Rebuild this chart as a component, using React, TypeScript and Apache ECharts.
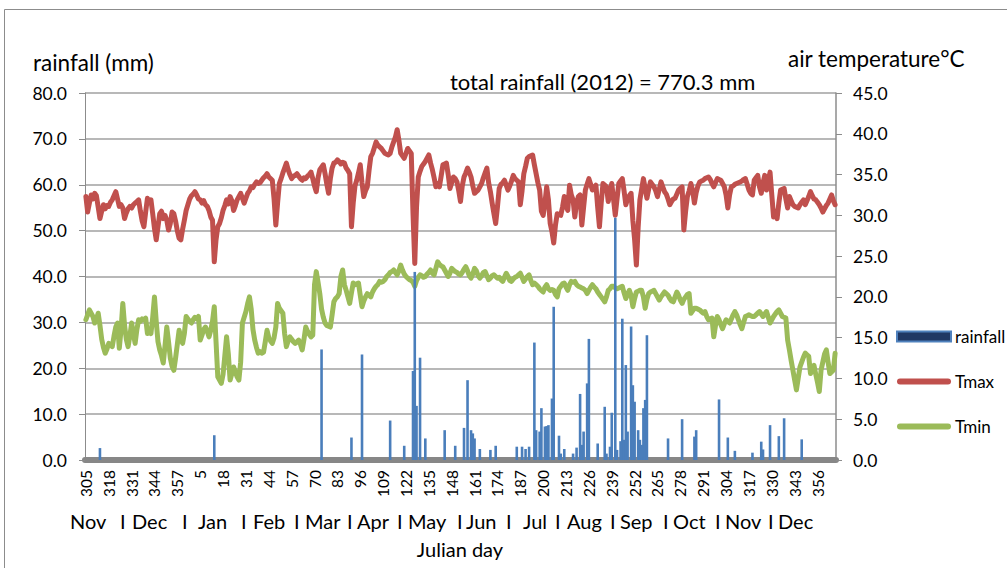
import React, { useEffect, useRef } from "react";
import * as echarts from "echarts";

// Julian days: 1 Nov 2011 (day 305) .. 31 Dec 2012 (day 366)
const days2011Start = 305;
const days2011End = 365;
const days2012End = 366;

// Daily maximum air temperature (°C), 1 Nov 2011 – 31 Dec 2012
const tmax: number[] = [
  32.3, 30.4, 31.5, 32.5, 32.0, 32.7, 32.4, 31.0, 29.6, 30.5,
  31.3, 30.8, 31.2, 31.1, 31.6, 31.9, 32.4, 32.9, 32.0, 31.1,
  31.3, 30.9, 29.6, 30.3, 30.8, 31.1, 30.9, 31.3, 31.5, 31.7,
  31.9, 30.5, 29.3, 28.6, 30.4, 32.1, 31.6, 31.9, 30.2, 28.4,
  27.0, 28.6, 30.2, 30.5, 29.6, 30.0, 29.4, 28.2, 29.0, 30.4,
  30.2, 29.3, 28.1, 27.2, 27.0, 28.3, 29.4, 30.6, 31.3, 32.0,
  32.4, 32.6, 32.9, 32.5, 32.0, 31.9, 31.5, 31.8, 31.3, 31.1,
  30.6, 29.8, 29.4, 24.3, 27.0, 28.6, 29.0, 29.7, 30.6, 31.2,
  31.9, 31.4, 32.3, 31.8, 30.6, 31.2, 31.9, 32.3, 32.7, 32.1,
  31.5, 32.1, 32.7, 33.0, 33.5, 33.4, 33.8, 34.1, 33.9, 34.0,
  34.3, 34.6, 34.8, 35.1, 34.7, 34.5, 34.3, 32.0, 28.8, 31.5,
  33.9, 34.5, 35.2, 35.8, 36.4, 35.6, 35.0, 34.5, 34.8, 34.9,
  35.1, 34.8, 34.5, 34.3, 34.6, 34.5, 34.8, 35.0, 35.3, 34.5,
  33.6, 32.9, 34.6, 35.6, 35.9, 36.2, 35.1, 33.8, 32.7, 34.5,
  35.8, 36.4, 36.5, 36.8, 36.6, 36.3, 36.5, 36.4, 35.8, 35.5,
  35.1, 28.6, 31.5, 33.6, 34.3, 35.2, 36.2, 34.0, 32.3, 33.0,
  33.5, 35.5, 37.2, 37.6, 38.3, 39.0, 38.6, 38.4, 38.2, 37.9,
  37.6, 37.5, 37.4, 37.6, 38.4, 39.0, 39.6, 40.5, 39.2, 37.6,
  37.3, 37.0, 37.6, 38.2, 37.9, 37.6, 30.2, 24.1, 31.0, 34.7,
  35.4, 36.0, 36.3, 36.6, 37.0, 37.4, 36.4, 35.6, 34.6, 33.5,
  33.9, 33.5, 34.8, 36.2, 36.3, 36.4, 35.0, 33.3, 34.0, 34.7,
  34.5, 34.1, 33.0, 31.7, 33.6, 34.7, 35.2, 35.8, 35.3, 34.7,
  33.6, 32.7, 32.9, 33.1, 33.5, 33.9, 34.6, 35.2, 35.8, 34.0,
  32.9, 31.5, 30.2, 29.0, 31.0, 33.3, 33.8, 34.0, 34.3, 33.7,
  33.1, 33.6, 34.2, 34.9, 34.5, 34.3, 34.1, 31.3, 33.0, 35.1,
  36.0, 37.0, 37.2, 37.3, 37.4, 36.2, 35.1, 34.0, 33.1, 30.5,
  30.0, 31.5, 33.5, 31.9, 29.0, 28.0, 26.6, 28.8, 30.2, 30.1,
  30.0, 31.0, 32.3, 31.2, 30.6, 33.7, 32.5, 31.9, 29.8, 31.5,
  32.3, 32.5, 28.8, 31.0, 33.1, 33.8, 34.5, 33.8, 33.1, 33.4,
  33.7, 31.0, 28.6, 31.5, 33.9, 33.7, 33.5, 31.7, 32.8, 33.9,
  32.0, 30.0, 32.0, 33.9, 34.2, 34.5, 33.0, 31.3, 32.0, 32.4,
  32.7, 29.4, 27.0, 23.9, 28.5, 31.9, 33.2, 34.5, 33.3, 32.1,
  33.2, 34.1, 33.8, 33.5, 33.0, 32.3, 33.2, 34.1, 33.5, 32.9,
  32.6, 32.0, 31.3, 31.7, 32.0, 32.1, 32.6, 33.1, 33.3, 33.5,
  28.2, 30.5, 32.3, 33.0, 33.9, 33.0, 31.5, 32.8, 33.6, 34.1,
  34.2, 34.3, 34.5, 34.6, 34.7, 34.4, 33.9, 33.5, 34.0, 34.5,
  34.4, 34.3, 33.9, 33.5, 32.5, 30.9, 32.5, 33.5, 33.6, 33.8,
  33.9, 34.0, 34.1, 34.2, 34.4, 34.5, 33.8, 33.1, 32.7, 32.5,
  34.3, 34.6, 34.9, 33.5, 32.7, 34.0, 34.9, 33.1, 34.2, 35.3,
  32.5, 29.8, 30.5, 29.6, 31.5, 33.1, 33.2, 33.3, 32.0, 30.9,
  32.3, 31.8, 31.3, 31.1, 31.0, 30.9, 31.3, 31.6, 31.9, 31.3,
  31.8, 32.3, 32.9, 32.4, 32.0, 31.9, 31.6, 31.3, 30.9, 30.4,
  30.8, 31.2, 31.5, 32.0, 32.5, 31.8, 31.3,
];

// Daily minimum air temperature (°C)
const tmin: number[] = [
  17.2, 17.8, 18.4, 18.0, 17.6, 16.8, 17.3, 18.0, 16.5, 14.8,
  13.8, 13.1, 13.6, 14.3, 14.1, 13.9, 15.2, 16.3, 16.8, 13.7,
  16.0, 19.2, 16.5, 14.8, 13.9, 15.2, 16.8, 15.5, 14.3, 16.0,
  17.2, 17.0, 17.3, 17.2, 17.4, 15.5, 15.8, 15.5, 17.5, 20.0,
  17.0, 14.5, 13.5, 12.8, 11.9, 14.0, 16.3, 14.5, 12.5, 11.5,
  11.0, 12.5, 14.2, 15.9, 15.0, 14.3, 15.5, 17.6, 17.3, 17.0,
  16.8, 17.2, 17.5, 17.3, 17.6, 14.7, 15.3, 16.0, 16.3, 15.8,
  15.1, 15.9, 17.0, 18.8, 14.5, 10.2, 9.8, 9.4, 10.5, 12.8,
  15.1, 13.0, 9.8, 10.6, 11.4, 10.8, 10.2, 9.8, 12.0, 16.8,
  17.5, 18.2, 19.2, 20.0, 18.5, 16.0, 14.7, 13.8, 13.1, 13.3,
  13.1, 13.2, 14.5, 15.9, 15.0, 14.6, 14.3, 15.0, 16.3, 19.2,
  18.6, 18.3, 18.0, 15.5, 13.9, 14.6, 15.1, 14.8, 14.5, 14.3,
  14.5, 14.7, 14.2, 13.5, 14.8, 16.3, 15.8, 15.4, 15.1, 15.3,
  21.5, 23.1, 21.8, 20.4, 18.5, 17.5, 16.8, 16.5, 16.4, 16.3,
  17.8, 19.4, 19.8, 20.0, 20.4, 22.5, 23.3, 21.5, 20.8, 20.0,
  19.2, 20.5, 21.7, 21.5, 21.6, 21.7, 20.2, 18.8, 19.5, 20.0,
  20.4, 20.2, 20.0, 20.6, 21.0, 21.3, 21.5, 21.9, 21.8, 21.9,
  22.1, 22.5, 22.7, 23.0, 23.1, 23.3, 23.0, 22.7, 23.2, 23.9,
  23.3, 22.8, 22.5, 22.3, 22.1, 22.0, 21.8, 21.3, 22.0, 22.4,
  22.7, 22.6, 22.4, 22.5, 22.8, 23.0, 23.3, 22.9, 22.7, 23.5,
  24.3, 24.0, 23.8, 23.7, 23.3, 22.9, 22.5, 22.9, 23.5, 23.3,
  23.1, 23.0, 22.8, 22.7, 23.0, 23.4, 23.7, 23.2, 22.6, 22.3,
  22.8, 23.5, 23.2, 22.6, 22.3, 22.6, 23.0, 23.1, 22.6, 22.1,
  22.3, 22.6, 22.7, 22.5, 22.3, 22.4, 22.1, 21.9, 22.4, 22.9,
  22.5, 22.0, 21.9, 22.2, 22.4, 22.5, 22.7, 22.9, 22.4, 21.9,
  22.2, 22.5, 22.7, 22.0, 21.5, 21.7, 21.5, 21.3, 21.0, 20.8,
  20.6, 21.2, 21.5, 21.0, 20.8, 20.9, 20.8, 20.3, 20.0, 21.0,
  21.3, 21.6, 21.7, 21.2, 20.8, 21.5, 21.9, 21.8, 21.9, 21.5,
  21.3, 21.2, 21.1, 21.0, 20.8, 20.4, 20.8, 21.2, 21.5, 21.2,
  21.0, 20.6, 20.3, 20.0, 19.7, 19.4, 20.0, 20.8, 21.0, 21.3,
  21.3, 21.1, 21.0, 21.1, 21.2, 21.3, 20.5, 19.8, 20.3, 20.8,
  20.2, 18.8, 19.8, 20.6, 20.7, 20.8, 20.8, 20.0, 18.6, 19.7,
  20.4, 20.6, 20.7, 20.8, 20.4, 20.0, 19.6, 20.0, 20.3, 20.6,
  20.4, 20.2, 19.8, 19.5, 19.4, 20.0, 20.6, 20.2, 19.6, 19.2,
  19.7, 20.0, 20.3, 20.4, 18.0, 18.3, 18.6, 18.6, 18.5, 18.4,
  18.2, 18.0, 18.2, 17.6, 17.2, 17.3, 17.4, 15.1, 16.5, 17.6,
  17.2, 16.6, 16.1, 16.7, 17.2, 17.0, 16.8, 17.3, 17.8, 18.2,
  17.8, 17.2, 16.6, 16.1, 16.9, 17.6, 17.7, 17.8, 17.7, 17.6,
  17.6, 17.8, 18.0, 18.2, 17.9, 17.6, 17.9, 18.2, 17.5, 16.8,
  17.2, 17.6, 17.9, 18.2, 18.4, 18.0, 17.6, 17.5, 17.4, 14.7,
  13.5, 12.2, 11.0, 9.8, 8.6, 10.0, 11.4, 12.0, 12.6, 13.1,
  12.9, 12.7, 10.6, 11.0, 11.6, 10.5, 9.5, 8.4, 11.0, 12.0,
  13.0, 13.5, 12.0, 10.6, 10.8, 11.0, 13.1,
];

// Rain days: [Julian day, rainfall mm]
const rain2011: [number, number][] = [[313, 2.6]];
const rain2012: [number, number][] = [
  [13, 5.4], [74, 24.1], [91, 4.9], [97, 23.0], [113, 8.6], [121, 3.1],
  [126, 19.4], [127, 41.0], [128, 11.8], [130, 22.3], [133, 4.7], [144, 6.5],
  [150, 3.1], [155, 7.0], [157, 17.4], [159, 6.5], [160, 5.8], [161, 4.7],
  [164, 2.4], [170, 2.2], [173, 3.1], [185, 2.9], [188, 2.9], [190, 2.4],
  [192, 2.9], [195, 25.6], [196, 6.5], [198, 6.2], [199, 11.3], [201, 7.3],
  [202, 7.4], [203, 7.6], [205, 13.4], [206, 33.4], [209, 5.3], [210, 1.4],
  [212, 2.4], [217, 1.4], [219, 2.7], [221, 14.4], [222, 3.3], [223, 6.2],
  [225, 16.7], [226, 26.4], [231, 3.6], [235, 11.6], [236, 1.4], [238, 2.9],
  [239, 10.3], [241, 52.8], [242, 2.2], [244, 4.1], [245, 30.8], [246, 4.4],
  [247, 20.7], [248, 6.2], [250, 29.1], [251, 16.3], [252, 12.7], [254, 6.5],
  [255, 4.4], [256, 3.3], [257, 11.3], [258, 13.1], [259, 27.2], [271, 4.7],
  [279, 8.9], [286, 5.1], [287, 6.5], [300, 13.2], [305, 4.9], [309, 2.0],
  [319, 1.6], [324, 4.0], [325, 2.3], [329, 7.6], [334, 5.2], [337, 9.1],
  [347, 4.5],
];

const monthLine: [string, number][] = [
  ["Nov", 70], ["I", 120], ["Dec", 132], ["I", 182], ["Jan", 198], ["I", 241],
  ["Feb", 253], ["I", 294], ["Mar", 305], ["I", 347], ["Apr", 357], ["I", 397],
  ["May", 408], ["I", 457], ["Jun", 466], ["I", 506], ["Jul", 523], ["I", 555],
  ["Aug", 567], ["I", 610], ["Sep", 620], ["I", 663], ["Oct", 673], ["I", 715],
  ["Nov", 725], ["I", 768], ["Dec", 778],
];

const chartTitle = "total rainfall (2012) = 770.3 mm";
const leftAxisTitle = "rainfall (mm)";
const rightAxisTitle = "air temperature°C";
const xAxisTitle = "Julian day";

const categories: string[] = [];
for (let d = days2011Start; d <= days2011End; d++) categories.push(String(d));
for (let d = 1; d <= days2012End; d++) categories.push(String(d));

const offset2012 = days2011End - days2011Start + 1;
const rainfall: number[] = categories.map(() => 0);
rain2011.forEach(([d, v]) => { rainfall[d - days2011Start] = v; });
rain2012.forEach(([d, v]) => { rainfall[offset2012 + d - 1] = v; });

const FONT = "Lato, 'Liberation Sans', sans-serif";
const LINE_ICON = "path://M3,0 L51,0 A3,3 0 0 1 51,6 L3,6 A3,3 0 0 1 3,0 Z";

export default function App() {
  const ref = useRef<HTMLDivElement>(null);
  useEffect(() => {
    if (!ref.current) return;
    const chart = echarts.init(ref.current, null, { renderer: "svg" });
    const graphics: any[] = [
      {
        type: "rect",
        shape: { x: 4.5, y: 9.5, width: 1010, height: 570 },
        style: { fill: "none", stroke: "#8c8c8c", lineWidth: 1 },
        silent: true,
      },
      {
        type: "text", x: 33, y: 62,
        style: { text: leftAxisTitle, font: `22.5px ${FONT}`, fill: "#000", align: "left", verticalAlign: "middle" },
      },
      {
        type: "text", x: 788, y: 58,
        style: { text: rightAxisTitle, font: `22.5px ${FONT}`, fill: "#000", align: "left", verticalAlign: "middle" },
      },
      {
        type: "text", x: 450, y: 81,
        style: { text: chartTitle, font: `22px ${FONT}`, fill: "#000", align: "left", verticalAlign: "middle" },
      },
      {
        type: "text", x: 460, y: 549,
        style: { text: xAxisTitle, font: `20px ${FONT}`, fill: "#000", align: "center", verticalAlign: "middle" },
      },
      ...monthLine.map(([t, x]) => ({
        type: "text", x, y: 521,
        style: { text: t, font: `20px ${FONT}`, fill: "#000", align: "left", verticalAlign: "middle" },
      })),
    ];

    chart.setOption({
      animation: false,
      backgroundColor: "#fff",
      textStyle: { fontFamily: FONT },
      grid: { left: 85, right: 171, top: 93, bottom: 108, containLabel: false },
      legend: {
        orient: "vertical",
        left: 891,
        top: 323,
        itemWidth: 54,
        itemHeight: 10,
        itemGap: 28,
        padding: 5,
        textStyle: { fontFamily: FONT, fontSize: 17, color: "#000", padding: [0, 0, 0, -1] },
        data: [
          { name: "rainfall", icon: "rect", itemStyle: { color: "#203864", borderColor: "#4F81BD", borderWidth: 2 } },
          { name: "Tmax", icon: LINE_ICON, itemStyle: { color: "#C0504D", borderWidth: 0 } },
          { name: "Tmin", icon: LINE_ICON, itemStyle: { color: "#9BBB59", borderWidth: 0 } },
        ],
      },
      xAxis: {
        type: "category",
        data: categories,
        boundaryGap: true,
        axisLine: { lineStyle: { color: "#878787", width: 6 } },
        axisTick: { show: false },
        axisLabel: {
          interval: 12,
          rotate: 90,
          margin: 10,
          fontSize: 15.5,
          color: "#000",
          fontFamily: FONT,
        },
        splitLine: { show: false },
      },
      yAxis: [
        {
          type: "value",
          min: 0,
          max: 80,
          interval: 10,
          axisLine: { show: true, lineStyle: { color: "#8c8c8c", width: 1 } },
          axisTick: { show: true, length: 6, lineStyle: { color: "#8c8c8c" } },
          axisLabel: { formatter: (v: number) => v.toFixed(1), fontSize: 17.5, color: "#000", margin: 18, fontFamily: FONT },
          splitLine: { show: true, lineStyle: { color: "#a0a0a0", width: 1.5 } },
        },
        {
          type: "value",
          min: 0,
          max: 45,
          interval: 5,
          position: "right",
          axisLine: { show: true, lineStyle: { color: "#8c8c8c", width: 1.5 } },
          axisTick: { show: true, length: 6, lineStyle: { color: "#8c8c8c" } },
          axisLabel: { formatter: (v: number) => v.toFixed(1), fontSize: 17.5, color: "#000", margin: 17, fontFamily: FONT },
          splitLine: { show: false },
        },
      ],
      series: [
        {
          name: "rainfall",
          type: "bar",
          yAxisIndex: 0,
          data: rainfall,
          barWidth: 2.6,
          itemStyle: { color: "#4A7EBB" },
          z: 4,
        },
        {
          name: "Tmax",
          type: "line",
          yAxisIndex: 1,
          data: tmax,
          symbol: "none",
          lineStyle: { color: "#C0504D", width: 5, cap: "round", join: "round" },
          itemStyle: { color: "#C0504D" },
          z: 2,
        },
        {
          name: "Tmin",
          type: "line",
          yAxisIndex: 1,
          data: tmin,
          symbol: "none",
          lineStyle: { color: "#9BBB59", width: 5, cap: "round", join: "round" },
          itemStyle: { color: "#9BBB59" },
          z: 2,
        },
      ],
      graphic: graphics,
    });
    return () => chart.dispose();
  }, []);
  return (
    <div
      ref={ref}
      style={{ position: "fixed", left: 0, top: 0, width: 1007, height: 568, background: "#fff" }}
    />
  );
}
